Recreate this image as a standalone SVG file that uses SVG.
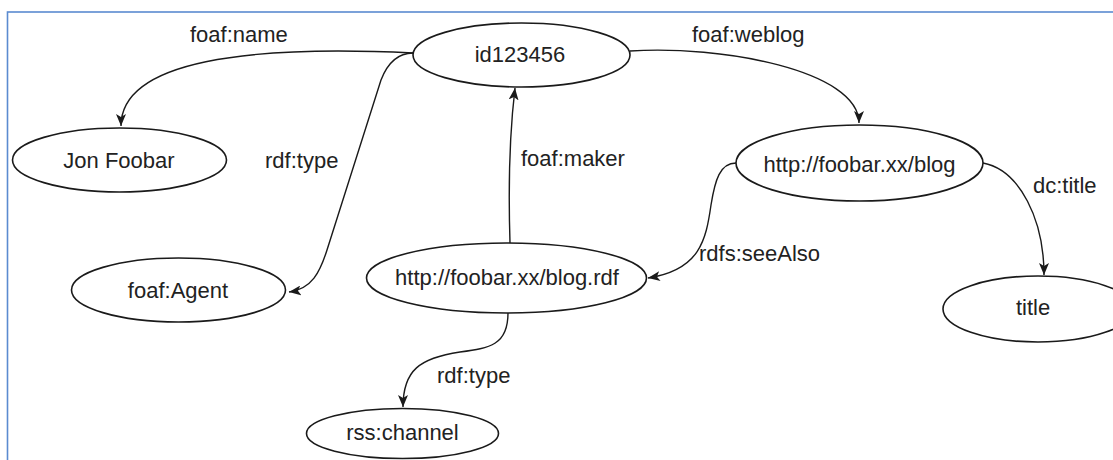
<svg xmlns="http://www.w3.org/2000/svg" width="1113" height="460" viewBox="0 0 1113 460">
<style>
.node ellipse{fill:#fff;stroke:#1a1a1a;stroke-width:1.6}
.node text,.lbl{font-family:"Liberation Sans",Arial,sans-serif;font-size:22px;fill:#222}
.node text{text-anchor:middle}
.edge{fill:none;stroke:#1a1a1a;stroke-width:1.4;marker-end:url(#arr)}
</style>
<defs>
<marker id="arr" viewBox="0 0 12 10" refX="12" refY="5" markerWidth="12" markerHeight="10" markerUnits="userSpaceOnUse" orient="auto">
<path d="M0,0 L12,5 L0,10 L3,5 z" fill="#1a1a1a"/>
</marker>
</defs>
<rect x="0" y="0" width="1113" height="460" fill="#fff"/>
<rect x="7.5" y="12" width="1200" height="600" fill="none" stroke="#5b8bd0" stroke-width="1.6"/>
<g id="connectors">
<path class="edge" d="M413,53 C250,45 121,60 121,126"/>
<path class="edge" d="M413,53 C398,53 388,62 381,80 L327,250 C320,272 312,289 289,292"/>
<path class="edge" d="M510,243 C508,180 510,130 515,88"/>
<path class="edge" d="M630,51 C720,45 859,70 859,123"/>
<path class="edge" d="M736,163 C720,163 715,180 711,205 C706,240 700,270 648,278"/>
<path class="edge" d="M983,163 C1020,170 1044,220 1044,275"/>
<path class="edge" d="M508,313 C508,345 490,348 460,352 C420,358 403,370 403,407"/>
<text class="lbl" x="190" y="42">foaf:name</text>
<text class="lbl" x="265" y="168">rdf:type</text>
<text class="lbl" x="521" y="166">foaf:maker</text>
<text class="lbl" x="692" y="42">foaf:weblog</text>
<text class="lbl" x="699" y="261">rdfs:seeAlso</text>
<text class="lbl" x="1033" y="193">dc:title</text>
<text class="lbl" x="437" y="383">rdf:type</text>
</g>
<g id="n-id123456" class="node"><ellipse cx="521.5" cy="55" rx="108.5" ry="32"/><text x="520" y="62">id123456</text></g>
<g id="n-jon" class="node"><ellipse cx="119.5" cy="160" rx="107" ry="32"/><text x="119" y="168">Jon Foobar</text></g>
<g id="n-agent" class="node"><ellipse cx="178.5" cy="290" rx="107" ry="32"/><text x="178" y="298">foaf:Agent</text></g>
<g id="n-blogrdf" class="node"><ellipse cx="506.5" cy="278" rx="140" ry="35"/><text x="507" y="285">http://foobar.xx/blog.rdf</text></g>
<g id="n-blog" class="node"><ellipse cx="859.5" cy="163" rx="123.5" ry="38"/><text x="859.5" y="172">http://foobar.xx/blog</text></g>
<g id="n-title" class="node"><ellipse cx="1038" cy="309" rx="95" ry="33"/><text x="1033" y="315">title</text></g>
<g id="n-rss" class="node"><ellipse cx="402.5" cy="433.5" rx="96" ry="25"/><text x="402.5" y="440">rss:channel</text></g>
</svg>
